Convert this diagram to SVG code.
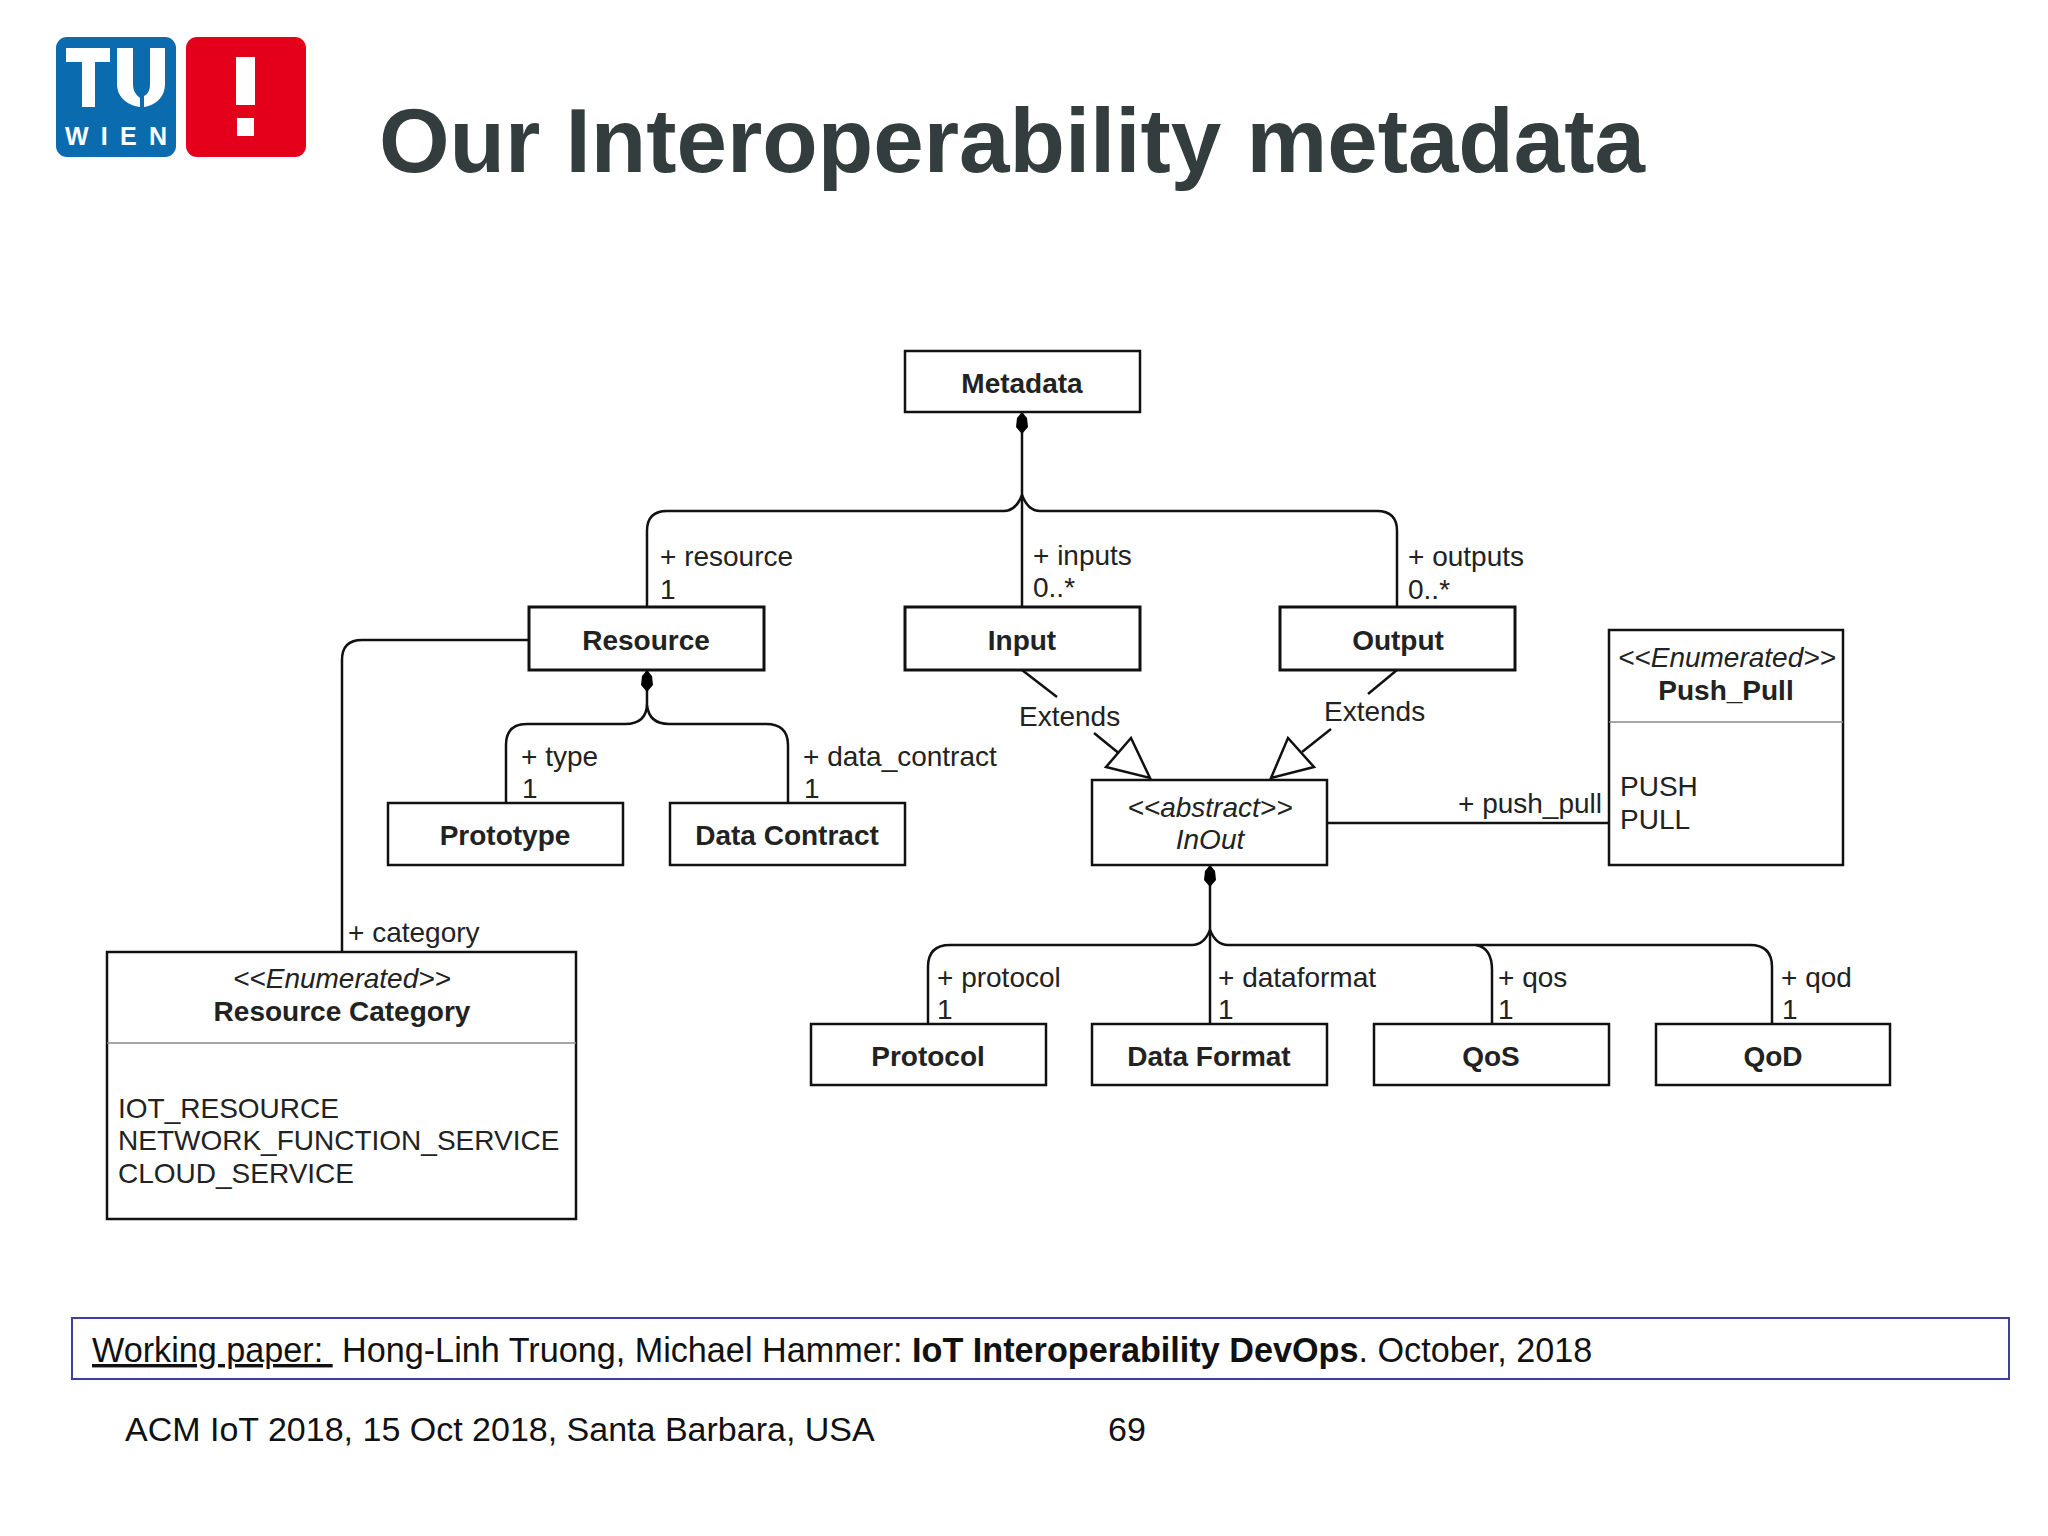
<svg xmlns="http://www.w3.org/2000/svg" width="2048" height="1536" viewBox="0 0 2048 1536">
<style>
text{font-family:"Liberation Sans",Arial,sans-serif;fill:#222}
.box{fill:#fff;stroke:#111;stroke-width:2.5}
.thick{stroke-width:3}
.c{fill:none;stroke:#111;stroke-width:2.5}
.n{font-size:28px;font-weight:bold;text-anchor:middle}
.s{font-size:28px;font-style:italic;text-anchor:middle}
.l{font-size:28px}
.f{font-size:34.2px;fill:#111}
.g{font-size:34px;fill:#111}
.d{fill:#000}
.tri{fill:#fff;stroke:#111;stroke-width:2.5}
</style>
<rect width="2048" height="1536" fill="#fff"/>
<g id="logo">
<rect x="56" y="37" width="120" height="120" rx="11" fill="#0a6cae"/>
<rect x="186" y="37" width="120" height="120" rx="11" fill="#e4001b"/>
<path d="M66 48h44v14h-15v45h-13v-45h-16z" fill="#fff"/>
<path d="M117 48H133V84C133 91 136 95 140 98V107C126 105 117 96 117 84Z" fill="#fff"/>
<path d="M165 48H150V84C150 90 148 94 144 96V107C157 105 165 96 165 84Z" fill="#fff"/>
<text x="65" y="145" font-size="25" font-weight="bold" textLength="102" style="fill:#fff">WIEN</text>
<rect x="236" y="57" width="19" height="48" fill="#fff"/>
<rect x="237" y="118" width="17" height="18" fill="#fff"/>
</g>
<text id="title" x="379" y="172" font-size="90" font-weight="bold" style="fill:#333d3d" textLength="1266" lengthAdjust="spacingAndGlyphs">Our Interoperability metadata</text>
<g id="connectors">
<path class="c" d="M1022 412V607"/>
<path class="c" d="M647 607V531Q647 511 667 511H1004Q1016 511 1022 495Q1028 511 1040 511H1377Q1397 511 1397 531V607"/>
<path class="c" d="M529 640H362Q342 640 342 660V952"/>
<path class="c" d="M647 670V703Q647 724 625 724H527Q506 724 506 745V803"/>
<path class="c" d="M647 705Q649 724 669 724H766Q788 724 788 745V803"/>
<path class="c" d="M1022 670L1057 697"/>
<path class="c" d="M1094 733L1132 764"/>
<path class="c" d="M1397 670L1368 694"/>
<path class="c" d="M1331 729L1302 752"/>
<path class="tri" d="M1150 778L1131 738L1106 767Z"/>
<path class="tri" d="M1271 778L1288 738L1314 767Z"/>
<path class="c" d="M1327 823H1609"/>
<path class="c" d="M1210 865V1024"/>
<path class="c" d="M928 1024V967Q928 945 950 945H1192Q1204 945 1210 930Q1216 945 1228 945H1750Q1772 945 1772 967V1024"/>
<path class="c" d="M1476 945Q1492 948 1492 970V1024"/>
<path class="d" d="M1022 412L1027 418L1028 427L1022 434L1016 427L1017 418Z"/>
<path class="d" d="M647 670L652 676L653 685L647 692L641 685L642 676Z"/>
<path class="d" d="M1210 865L1215 871L1216 880L1210 887L1204 880L1205 871Z"/>
</g>
<g id="metadata"><rect class="box" x="905" y="351" width="235" height="61"/><text class="n" x="1022" y="393">Metadata</text></g>
<g id="resource"><rect class="box thick" x="529" y="607" width="235" height="63"/><text class="n" x="646" y="650">Resource</text></g>
<g id="input"><rect class="box thick" x="905" y="607" width="235" height="63"/><text class="n" x="1022" y="650">Input</text></g>
<g id="output"><rect class="box thick" x="1280" y="607" width="235" height="63"/><text class="n" x="1398" y="650">Output</text></g>
<g id="prototype"><rect class="box" x="388" y="803" width="235" height="62"/><text class="n" x="505" y="845">Prototype</text></g>
<g id="data-contract"><rect class="box" x="670" y="803" width="235" height="62"/><text class="n" x="787" y="845">Data Contract</text></g>
<g id="inout"><rect class="box" x="1092" y="780" width="235" height="85"/><text class="s" x="1210" y="817">&lt;&lt;abstract&gt;&gt;</text><text class="s" x="1210" y="849">InOut</text></g>
<g id="push-pull"><rect class="box" x="1609" y="630" width="234" height="235"/><path d="M1609 722H1843" stroke="#888" stroke-width="1.5"/><text class="s" x="1727" y="667">&lt;&lt;Enumerated&gt;&gt;</text><text class="n" x="1726" y="700">Push_Pull</text><text class="l" x="1620" y="796">PUSH</text><text class="l" x="1620" y="829">PULL</text></g>
<g id="protocol"><rect class="box" x="811" y="1024" width="235" height="61"/><text class="n" x="928" y="1066">Protocol</text></g>
<g id="data-format"><rect class="box" x="1092" y="1024" width="235" height="61"/><text class="n" x="1209" y="1066">Data Format</text></g>
<g id="qos"><rect class="box" x="1374" y="1024" width="235" height="61"/><text class="n" x="1491" y="1066">QoS</text></g>
<g id="qod"><rect class="box" x="1656" y="1024" width="234" height="61"/><text class="n" x="1773" y="1066">QoD</text></g>
<g id="resource-category"><rect class="box" x="107" y="952" width="469" height="267"/><path d="M107 1043H576" stroke="#888" stroke-width="1.5"/><text class="s" x="342" y="988">&lt;&lt;Enumerated&gt;&gt;</text><text class="n" x="342" y="1021">Resource Category</text><text class="l" x="118" y="1118">IOT_RESOURCE</text><text class="l" x="118" y="1150">NETWORK_FUNCTION_SERVICE</text><text class="l" x="118" y="1183">CLOUD_SERVICE</text></g>
<g id="labels">
<text class="l" x="660" y="566">+ resource</text><text class="l" x="660" y="599">1</text>
<text class="l" x="1033" y="565">+ inputs</text><text class="l" x="1033" y="597">0..*</text>
<text class="l" x="1408" y="566">+ outputs</text><text class="l" x="1408" y="599">0..*</text>
<text class="l" x="521" y="766">+ type</text><text class="l" x="522" y="798">1</text>
<text class="l" x="803" y="766">+ data_contract</text><text class="l" x="804" y="798">1</text>
<text class="l" x="1019" y="726">Extends</text><text class="l" x="1324" y="721">Extends</text>
<text class="l" x="1458" y="813">+ push_pull</text>
<text class="l" x="348" y="942">+ category</text>
<text class="l" x="937" y="987">+ protocol</text><text class="l" x="937" y="1019">1</text>
<text class="l" x="1218" y="987">+ dataformat</text><text class="l" x="1218" y="1019">1</text>
<text class="l" x="1498" y="987">+ qos</text><text class="l" x="1498" y="1019">1</text>
<text class="l" x="1781" y="987">+ qod</text><text class="l" x="1782" y="1019">1</text>
</g>
<g id="footer">
<rect x="72" y="1318" width="1937" height="61" fill="#fff" stroke="#3f3fa0" stroke-width="2"/>
<text class="f" x="92" y="1362" text-decoration="underline" style="white-space:pre">Working paper: </text>
<text class="f" x="342" y="1362">Hong-Linh Truong, Michael Hammer: <tspan font-weight="bold">IoT Interoperability DevOps</tspan>. October, 2018</text>
<text class="g" x="125" y="1441">ACM IoT 2018, 15 Oct 2018, Santa Barbara, USA</text>
<text class="g" x="1108" y="1441">69</text>
</g>
</svg>
